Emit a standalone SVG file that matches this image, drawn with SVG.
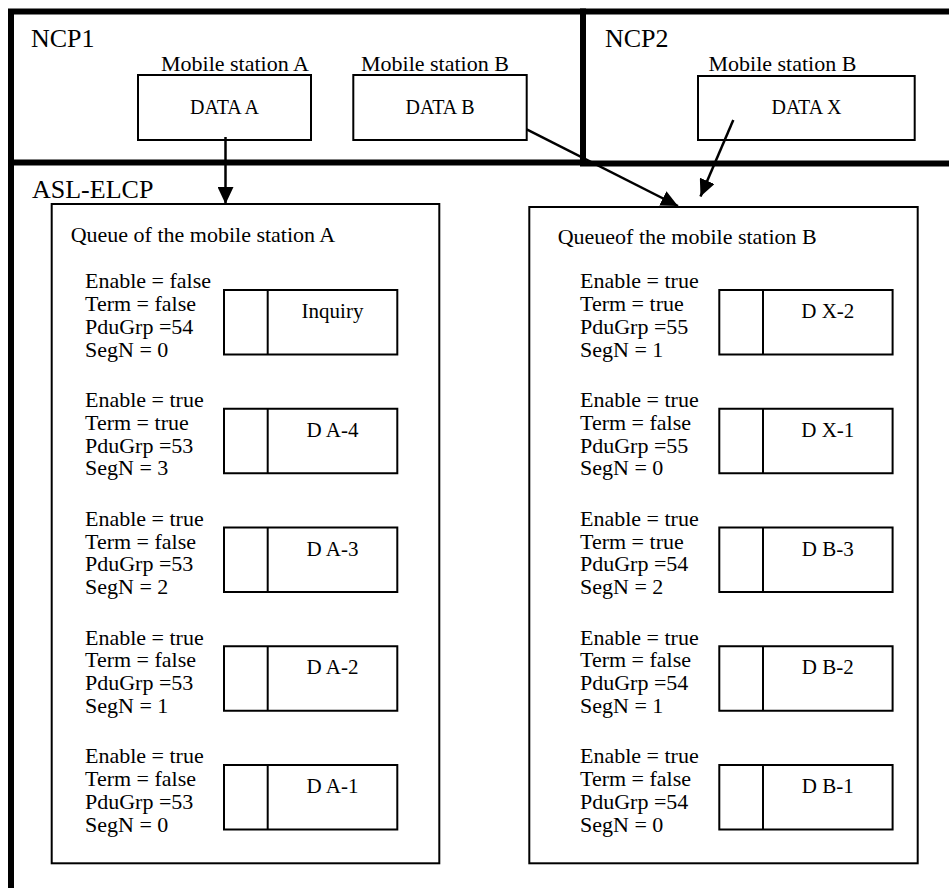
<svg xmlns="http://www.w3.org/2000/svg" width="949" height="888" viewBox="0 0 949 888">
  <style>
    text { fill: #000; }
    .hdr { font-size: 26px; }
    .lbl { font-size: 22px; }
    .cell { font-size: 21px; text-anchor: middle; }
    .dat { font-size: 20px; text-anchor: middle; }
    .frame { fill: none; stroke: #000; stroke-width: 6; stroke-linecap: square; }
    .box { fill: #fff; stroke: #000; stroke-width: 2; }
    .wire { fill: none; stroke: #000; stroke-width: 2.5; }
  </style>
  <defs>
    <marker id="head" markerUnits="userSpaceOnUse" markerWidth="18" markerHeight="16" refX="17" refY="8" orient="auto">
      <path d="M0,0 L17,8 L0,16 Z" fill="#000"/>
    </marker>
    <!-- one queue entry: flag cell + payload cell -->
    <g id="entry">
      <rect class="box" x="0" y="0" width="173.3" height="64.5"/>
      <line x1="43.7" y1="0" x2="43.7" y2="64.5" stroke="#000" stroke-width="2"/>
    </g>
  </defs>
  <rect width="949" height="888" fill="#fff"/>

  <!-- NCP1 frame -->
  <g id="ncp1" font-family="Liberation Serif">
    <path class="frame" d="M11,11.5 H583 V162.5 H11 Z"/>
    <text class="hdr" x="31" y="47">NCP1</text>
    <text class="lbl" x="161" y="71">Mobile station A</text>
    <g id="data-a">
      <rect class="box" x="138" y="75" width="173" height="65"/>
      <text class="dat" x="224.5" y="114">DATA A</text>
    </g>
    <text class="lbl" x="361" y="71">Mobile station B</text>
    <g id="data-b">
      <rect class="box" x="353.3" y="75" width="173.4" height="65"/>
      <text class="dat" x="440" y="114">DATA B</text>
    </g>
  </g>

  <!-- NCP2 frame, open to the right edge -->
  <g id="ncp2" font-family="Liberation Serif">
    <path class="frame" d="M583,11.5 H955 M583,11.5 V163.5 H955"/>
    <text class="hdr" x="605" y="47">NCP2</text>
    <text class="lbl" x="708.5" y="71">Mobile station B</text>
    <g id="data-x">
      <rect class="box" x="698" y="76" width="216.7" height="64"/>
      <text class="dat" x="806.5" y="114">DATA X</text>
    </g>
  </g>

  <!-- ASL-ELCP frame -->
  <g id="asl-elcp" font-family="Liberation Serif">
    <path class="frame" d="M11,162.5 V895"/>
    <text class="hdr" x="32" y="198">ASL-ELCP</text>
  </g>

  <!-- Queue of mobile station A -->
  <g id="queue-a" font-family="Liberation Serif">
    <rect class="box" x="51.7" y="204" width="387.6" height="659.3"/>
    <text class="lbl" x="70.7" y="241.7">Queue of the mobile station A</text>
    <g id="qa-1">
      <text class="lbl" x="85" y="288.3">Enable = false</text>
      <text class="lbl" x="85" y="311.1">Term = false</text>
      <text class="lbl" x="85" y="333.9">PduGrp =54</text>
      <text class="lbl" x="85" y="356.7">SegN = 0</text>
      <use href="#entry" x="224" y="290"/>
      <text class="cell" x="332.5" y="318">Inquiry</text>
    </g>
    <g id="qa-2">
      <text class="lbl" x="85" y="407.05">Enable = true</text>
      <text class="lbl" x="85" y="429.85">Term = true</text>
      <text class="lbl" x="85" y="452.65">PduGrp =53</text>
      <text class="lbl" x="85" y="475.45">SegN = 3</text>
      <use href="#entry" x="224" y="408.75"/>
      <text class="cell" x="332.5" y="436.75">D A-4</text>
    </g>
    <g id="qa-3">
      <text class="lbl" x="85" y="525.8">Enable = true</text>
      <text class="lbl" x="85" y="548.6">Term = false</text>
      <text class="lbl" x="85" y="571.4">PduGrp =53</text>
      <text class="lbl" x="85" y="594.2">SegN = 2</text>
      <use href="#entry" x="224" y="527.5"/>
      <text class="cell" x="332.5" y="555.5">D A-3</text>
    </g>
    <g id="qa-4">
      <text class="lbl" x="85" y="644.55">Enable = true</text>
      <text class="lbl" x="85" y="667.35">Term = false</text>
      <text class="lbl" x="85" y="690.15">PduGrp =53</text>
      <text class="lbl" x="85" y="712.95">SegN = 1</text>
      <use href="#entry" x="224" y="646.25"/>
      <text class="cell" x="332.5" y="674.25">D A-2</text>
    </g>
    <g id="qa-5">
      <text class="lbl" x="85" y="763.3">Enable = true</text>
      <text class="lbl" x="85" y="786.1">Term = false</text>
      <text class="lbl" x="85" y="808.9">PduGrp =53</text>
      <text class="lbl" x="85" y="831.7">SegN = 0</text>
      <use href="#entry" x="224" y="765"/>
      <text class="cell" x="332.5" y="793">D A-1</text>
    </g>
  </g>

  <!-- Queue of mobile station B -->
  <g id="queue-b" font-family="Liberation Serif">
    <rect class="box" x="529.3" y="207" width="388.4" height="656.3"/>
    <text class="lbl" x="557.7" y="244">Queueof the mobile station B</text>
    <g id="qb-1">
      <text class="lbl" x="580" y="288.3">Enable = true</text>
      <text class="lbl" x="580" y="311.1">Term = true</text>
      <text class="lbl" x="580" y="333.9">PduGrp =55</text>
      <text class="lbl" x="580" y="356.7">SegN = 1</text>
      <use href="#entry" x="719.3" y="290"/>
      <text class="cell" x="827.8" y="318">D X-2</text>
    </g>
    <g id="qb-2">
      <text class="lbl" x="580" y="407.05">Enable = true</text>
      <text class="lbl" x="580" y="429.85">Term = false</text>
      <text class="lbl" x="580" y="452.65">PduGrp =55</text>
      <text class="lbl" x="580" y="475.45">SegN = 0</text>
      <use href="#entry" x="719.3" y="408.75"/>
      <text class="cell" x="827.8" y="436.75">D X-1</text>
    </g>
    <g id="qb-3">
      <text class="lbl" x="580" y="525.8">Enable = true</text>
      <text class="lbl" x="580" y="548.6">Term = true</text>
      <text class="lbl" x="580" y="571.4">PduGrp =54</text>
      <text class="lbl" x="580" y="594.2">SegN = 2</text>
      <use href="#entry" x="719.3" y="527.5"/>
      <text class="cell" x="827.8" y="555.5">D B-3</text>
    </g>
    <g id="qb-4">
      <text class="lbl" x="580" y="644.55">Enable = true</text>
      <text class="lbl" x="580" y="667.35">Term = false</text>
      <text class="lbl" x="580" y="690.15">PduGrp =54</text>
      <text class="lbl" x="580" y="712.95">SegN = 1</text>
      <use href="#entry" x="719.3" y="646.25"/>
      <text class="cell" x="827.8" y="674.25">D B-2</text>
    </g>
    <g id="qb-5">
      <text class="lbl" x="580" y="763.3">Enable = true</text>
      <text class="lbl" x="580" y="786.1">Term = false</text>
      <text class="lbl" x="580" y="808.9">PduGrp =54</text>
      <text class="lbl" x="580" y="831.7">SegN = 0</text>
      <use href="#entry" x="719.3" y="765"/>
      <text class="cell" x="827.8" y="793">D B-1</text>
    </g>
  </g>

  <!-- data flows into the queues -->
  <g id="connectors">
    <line class="wire" x1="225.5" y1="137" x2="225.5" y2="204" marker-end="url(#head)"/>
    <line class="wire" x1="526.7" y1="129.3" x2="678" y2="206" marker-end="url(#head)"/>
    <line class="wire" x1="733.3" y1="120" x2="700.5" y2="196.5" marker-end="url(#head)"/>
  </g>
</svg>
